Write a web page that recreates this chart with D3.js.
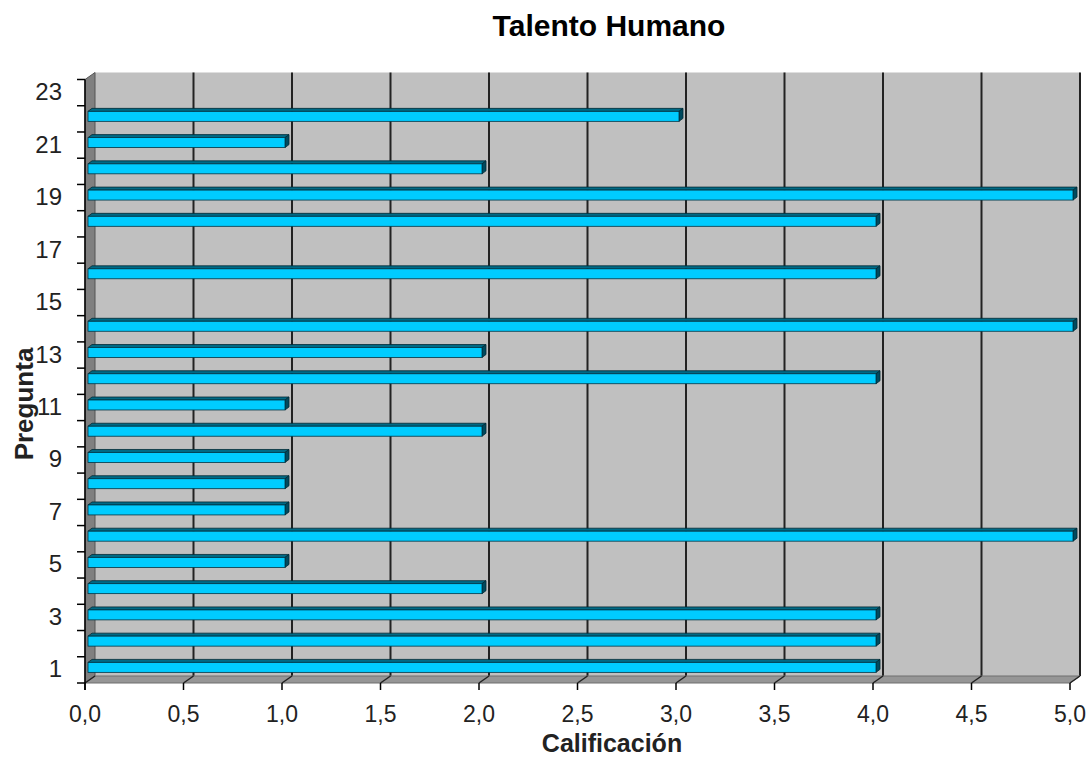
<!DOCTYPE html>
<html>
<head>
<meta charset="utf-8">
<script src="https://cdn.jsdelivr.net/npm/d3@7"></script>
<style>
  html, body { margin: 0; padding: 0; background: #fff; }
  svg { display: block; font-family: "Liberation Sans", Arial, sans-serif; }
</style>
</head>
<body>
<svg id="chart" width="1089" height="757"></svg>
<script>
// Question numbers and their scores
const preguntas = d3.range(1, 24).map(String);
const calificacion = [4, 4, 4, 2, 1, 5, 1, 1, 1, 2, 1, 4, 2, 5, 0, 4, 0, 4, 5, 2, 1, 3, 0];
const xTicks = [0, 0.5, 1, 1.5, 2, 2.5, 3, 3.5, 4, 4.5, 5];
const yTickLabels = preguntas.filter((d, i) => i % 2 === 0);

const titulo = "Talento Humano";
const ejeX = "Calificación";
const ejeY = "Pregunta";

(function draw() {
  const svg = d3.select("#chart");

  // Front plane of the 3D box
  const pLeft = 85, pRight = 1070, pBottom = 683, pTop = 79.5;
  // Depth offset of the back wall
  const DX = 10, DY = -7;

  const x = d3.scaleLinear().domain([0, 5]).range([pLeft, pRight]);
  const y = d3.scaleBand().domain(preguntas).range([pBottom, pTop]).paddingInner(0.62).paddingOuter(0.31);
  const yb = d3.scaleBand().domain(preguntas).range([pBottom, pTop]);

  const fmt = d => d3.format(".1f")(d).replace(".", ",");

  // Back wall
  svg.append("rect")
    .attr("x", pLeft + DX).attr("y", pTop + DY)
    .attr("width", pRight - pLeft).attr("height", pBottom - pTop)
    .attr("fill", "#c0c0c0");

  // Grid lines on back wall
  svg.append("g").selectAll("line").data(xTicks.slice(1)).join("line")
    .attr("x1", d => x(d) + DX).attr("x2", d => x(d) + DX)
    .attr("y1", pTop + DY).attr("y2", pBottom + DY)
    .attr("stroke", "#222").attr("stroke-width", 2);

  // Left side wall
  svg.append("polygon")
    .attr("points", [[pLeft, pTop], [pLeft + DX, pTop + DY], [pLeft + DX, pBottom + DY], [pLeft, pBottom]].join(" "))
    .attr("fill", "#808080").attr("stroke", "#555").attr("stroke-width", 1);

  // Floor
  svg.append("polygon")
    .attr("points", [[pLeft, pBottom], [pLeft + DX, pBottom + DY], [pRight + DX, pBottom + DY], [pRight, pBottom]].join(" "))
    .attr("fill", "#969696").attr("stroke", "#6e6e6e").attr("stroke-width", 1);

  // Grid lines across the floor
  svg.append("g").selectAll("line").data(xTicks).join("line")
    .attr("x1", d => x(d)).attr("x2", d => x(d) + DX)
    .attr("y1", pBottom).attr("y2", pBottom + DY)
    .attr("stroke", "#222").attr("stroke-width", 1.5);

  // Bars drawn as thin boxes sitting mid-depth
  const bdx0 = 3, bdy0 = -2.5, bdx1 = 7, bdy1 = -5.5;
  const ddx = bdx1 - bdx0, ddy = bdy1 - bdy0;
  const bars = svg.append("g").selectAll("g")
    .data(preguntas.map((p, i) => ({ p, v: calificacion[i] })).filter(d => d.v > 0))
    .join("g");

  bars.append("polygon") // top face
    .attr("points", d => {
      const y0 = y(d.p) + bdy0, x0 = x(0) + bdx0, x1 = x(d.v) + bdx0;
      return [[x0, y0], [x0 + ddx, y0 + ddy], [x1 + ddx, y0 + ddy], [x1, y0]].join(" ");
    })
    .attr("fill", "#006a85").attr("stroke", "#002a35").attr("stroke-width", 0.8);

  bars.append("polygon") // end cap
    .attr("points", d => {
      const x1 = x(d.v) + bdx0, y0 = y(d.p) + bdy0, y1 = y0 + y.bandwidth();
      return [[x1, y0], [x1 + ddx, y0 + ddy], [x1 + ddx, y1 + ddy], [x1, y1]].join(" ");
    })
    .attr("fill", "#004a5e").attr("stroke", "#002a35").attr("stroke-width", 0.8);

  bars.append("rect") // front face
    .attr("x", x(0) + bdx0).attr("y", d => y(d.p) + bdy0)
    .attr("width", d => x(d.v) - x(0)).attr("height", y.bandwidth())
    .attr("fill", "#00ccff").attr("stroke", "#003545").attr("stroke-width", 0.8);

  // Vertical axis line and ticks
  svg.append("line")
    .attr("x1", pLeft).attr("x2", pLeft).attr("y1", pTop).attr("y2", pBottom + 7)
    .attr("stroke", "#000").attr("stroke-width", 1.5);
  svg.append("g").selectAll("line").data(d3.range(0, 24)).join("line")
    .attr("x1", pLeft - 8).attr("x2", pLeft)
    .attr("y1", k => pBottom - k * yb.step()).attr("y2", k => pBottom - k * yb.step())
    .attr("stroke", "#000").attr("stroke-width", 1.5);

  // Horizontal axis ticks
  svg.append("g").selectAll("line").data(xTicks).join("line")
    .attr("x1", d => x(d)).attr("x2", d => x(d))
    .attr("y1", pBottom).attr("y2", pBottom + 7)
    .attr("stroke", "#000").attr("stroke-width", 1.5);

  // Tick labels
  svg.append("g").selectAll("text").data(xTicks).join("text")
    .attr("x", d => x(d)).attr("y", 722)
    .attr("text-anchor", "middle").attr("font-size", 23).attr("fill", "#222")
    .text(fmt);

  svg.append("g").selectAll("text").data(yTickLabels).join("text")
    .attr("x", 62).attr("y", d => yb(d) + yb.bandwidth() / 2 - 1)
    .attr("text-anchor", "end").attr("dominant-baseline", "central")
    .attr("font-size", 24).attr("fill", "#222")
    .text(d => d);

  // Titles
  svg.append("text")
    .attr("x", 609).attr("y", 36).attr("text-anchor", "middle")
    .attr("font-size", 30).attr("font-weight", "bold").attr("fill", "#000")
    .text(titulo);

  svg.append("text")
    .attr("x", 612).attr("y", 752).attr("text-anchor", "middle")
    .attr("font-size", 25).attr("font-weight", "bold").attr("fill", "#222")
    .text(ejeX);

  svg.append("text")
    .attr("transform", "translate(33,404) rotate(-90)")
    .attr("text-anchor", "middle")
    .attr("font-size", 26).attr("font-weight", "bold").attr("fill", "#222")
    .text(ejeY);
})();
</script>
</body>
</html>
